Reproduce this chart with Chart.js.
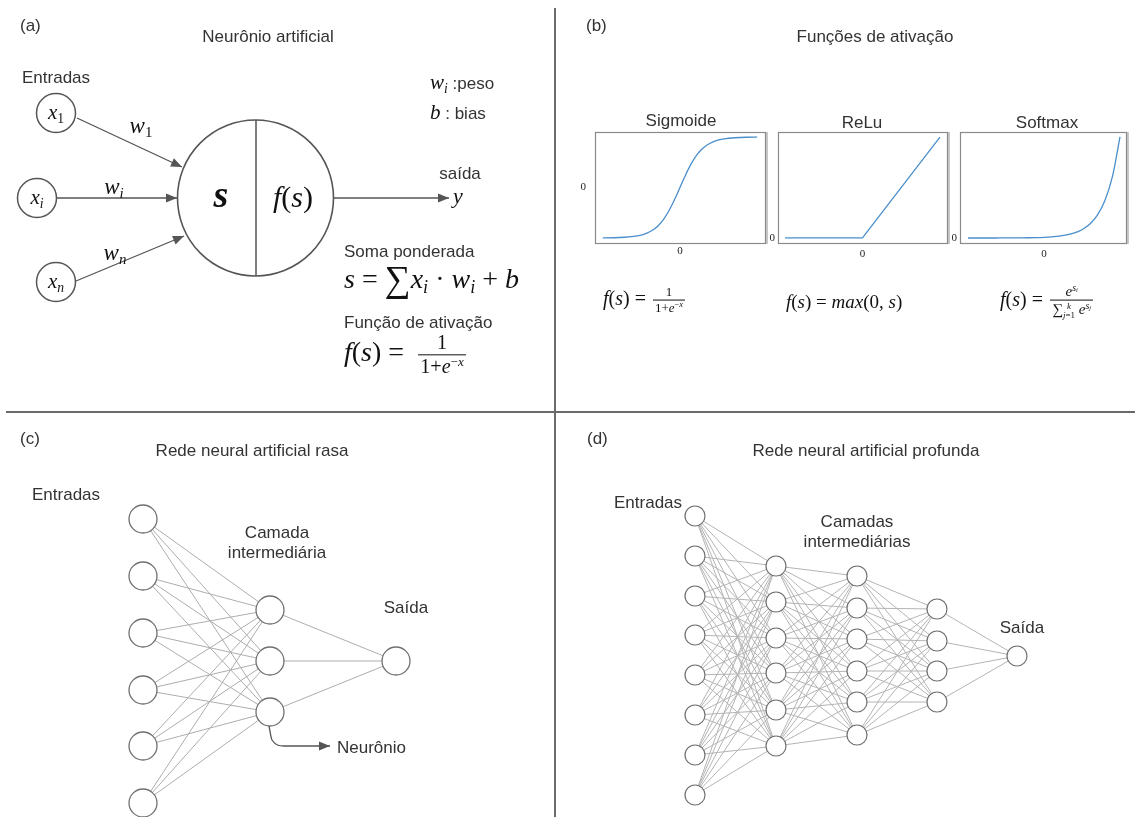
<!DOCTYPE html>
<html>
<head>
<meta charset="utf-8">
<script src="https://cdn.jsdelivr.net/npm/chart.js@4.4.1/dist/chart.umd.min.js"></script>
<style>
  html, body { margin: 0; padding: 0; background: #fff; }
  #wrap { position: relative; width: 1135px; height: 817px; overflow: hidden; }
  canvas { position: absolute; }
  .t { position: absolute; white-space: nowrap; line-height: 1; color: #333;
       font-family: "Liberation Sans", Arial, sans-serif; font-size: 17px; z-index: 5; }
  .m { font-family: "Liberation Serif", "Times New Roman", serif; color: #111; }
  .m i { font-style: italic; }
  sub, sup { font-size: 0.65em; line-height: 0; }
  sup { vertical-align: 0.55em; }
  sub { vertical-align: -0.3em; }
  .sig { font-size: 1.3em; vertical-align: -0.08em; }
  .frac { display: inline-block; vertical-align: middle; text-align: center; font-size: 0.65em; line-height: 1.15; margin-left: 0.15em; }
  .frac > span { display: block; padding: 0 2px; }
  .frac > span:first-child { border-bottom: 1.2px solid #111; }
  .ss { display: inline-flex; flex-direction: column; font-size: 0.6em; line-height: 1; vertical-align: middle; }
  .mw { font-family: "Liberation Serif", "Times New Roman", serif; font-style: italic; color: #111; font-size: 21px; }
</style>
</head>
<body>
<div id="wrap">
  <canvas id="main" width="1135" height="817" style="left:0;top:0"></canvas>
  <canvas id="sig"></canvas>
  <canvas id="relu"></canvas>
  <canvas id="soft"></canvas>
</div>
<script>
// ---- dados ----
// (a) neurônio artificial
const entradasA = [[56, 113], [37, 198], [56, 282]];
const corpoA = [255.5, 198];
const setasPeso = [[[77, 118], [182, 167]], [[57, 198], [177, 198]], [[76, 281], [184, 236]]];
const setaSaida = [[334, 198], [449, 198]];
const divisaoCorpo = [[256, 120], [256, 276]];
// divisórias dos painéis
const divisorias = [[[555, 8], [555, 817]], [[6, 412], [1135, 412]]];
// (c) rede rasa
const rasaX = [143, 270, 396];
const rasaY = [[519, 576, 633, 690, 746, 803], [610, 661, 712], [661]];
const ponteiroNeuronio = [[269, 726], [272, 740], [284, 746], [330, 746]];
// (d) rede profunda
const profX = [695, 776, 857, 937, 1017];
const profY = [
  [516, 556, 596, 635, 675, 715, 755, 795],
  [566, 602, 638, 673, 710, 746],
  [576, 608, 639, 671, 702, 735],
  [609, 641, 671, 702],
  [656]
];
// (b) funções de ativação
const sigmoideX = [-7, -6, -5, -4, -3.5, -3, -2.5, -2, -1.5, -1, -0.5, 0, 0.5, 1, 1.5, 2, 2.5, 3, 3.5, 4, 5, 6, 7];
const sigmoideY = [0.001, 0.002, 0.007, 0.018, 0.029, 0.047, 0.076, 0.119, 0.182, 0.269, 0.378, 0.5,
                   0.622, 0.731, 0.818, 0.881, 0.924, 0.953, 0.971, 0.982, 0.993, 0.998, 0.999];
const reluX = [-5, 0, 5];
const reluY = [0, 0, 5];
const softmaxX = [-5, -4.5, -4, -3.5, -3, -2.5, -2, -1.5, -1, -0.5, 0, 0.5, 1, 1.5, 2, 2.5, 3, 3.5, 4, 4.5, 5];
const softmaxY = [0.01, 0.01, 0.02, 0.03, 0.05, 0.08, 0.14, 0.22, 0.37, 0.61, 1, 1.65, 2.72, 4.48,
                  7.39, 12.18, 20.09, 33.12, 54.6, 90.02, 148.4];

const pt = p => ({ x: p[0], y: p[1] });

function linha(data, cor, larg, extra) {
  return Object.assign({ type: 'scatter', data, showLine: true, borderColor: cor, borderWidth: larg,
    pointRadius: 0, pointHoverRadius: 0, fill: false, clip: false, order: 3 }, extra || {});
}
function circulos(data, raio, cor, larg) {
  return { type: 'scatter', data, showLine: false, pointRadius: raio, pointHoverRadius: raio,
    pointBackgroundColor: '#fff', pointBorderColor: cor, pointBorderWidth: larg, clip: false, order: 1 };
}
// uma linha por ligação entre camadas vizinhas
function ligacoes(xs, ys, cor) {
  const out = [];
  for (let l = 0; l < xs.length - 1; l++) {
    ys[l].forEach(a => ys[l + 1].forEach(b => {
      out.push(linha([{ x: xs[l], y: a }, { x: xs[l + 1], y: b }], cor, 1));
    }));
  }
  return out;
}
function nos(xs, ys) {
  const out = [];
  xs.forEach((x, l) => ys[l].forEach(y => out.push({ x, y })));
  return out;
}

// pontas de seta no fim dos datasets marcados
const pontas = {
  id: 'pontas',
  afterDatasetsDraw(chart) {
    const ctx = chart.ctx;
    chart.data.datasets.forEach((ds, i) => {
      if (!ds.seta) return;
      const pts = chart.getDatasetMeta(i).data;
      const a = pts[pts.length - 2], b = pts[pts.length - 1];
      const ang = Math.atan2(b.y - a.y, b.x - a.x);
      ctx.save();
      ctx.translate(b.x, b.y);
      ctx.rotate(ang);
      ctx.beginPath();
      ctx.moveTo(0, 0);
      ctx.lineTo(-11, -4.5);
      ctx.lineTo(-11, 4.5);
      ctx.closePath();
      ctx.fillStyle = ds.borderColor;
      ctx.fill();
      ctx.restore();
    });
  }
};

const datasets = [];
divisorias.forEach(d => datasets.push(linha(d.map(pt), '#6a6a6a', 2)));
datasets.push(...ligacoes(rasaX, rasaY, '#adadad'));
datasets.push(...ligacoes(profX, profY, '#b4b4b4'));
datasets.push(circulos(nos(rasaX, rasaY), 14, '#707070', 1.3));
datasets.push(circulos(nos(profX, profY), 10, '#707070', 1.2));
datasets.push(circulos(entradasA.map(pt), 19.5, '#555', 1.5));
datasets.push(circulos([pt(corpoA)], 78, '#555', 1.6));
datasets.push(linha(divisaoCorpo.map(pt), '#555', 1.5, { order: 0 }));
setasPeso.forEach(s => datasets.push(linha(s.map(pt), '#555', 1.3, { seta: true })));
datasets.push(linha(setaSaida.map(pt), '#555', 1.3, { seta: true }));
datasets.push(linha(ponteiroNeuronio.map(pt), '#555', 1.3, { seta: true, cubicInterpolationMode: 'monotone' }));

new Chart(document.getElementById('main'), {
  type: 'scatter',
  data: { datasets },
  options: {
    responsive: false, animation: false, events: [],
    layout: { padding: 0, autoPadding: false },
    plugins: { legend: { display: false }, tooltip: { enabled: false } },
    scales: {
      x: { type: 'linear', min: 0, max: 1135, display: false },
      y: { type: 'linear', min: 0, max: 817, reverse: true, display: false }
    }
  },
  plugins: [pontas]
});

// ---- mini gráficos do painel (b) ----
const moldura = {
  id: 'moldura',
  afterDraw(c) {
    const { left, top, right, bottom } = c.chartArea;
    const ctx = c.ctx;
    ctx.save();
    ctx.strokeStyle = '#c8c8c8';
    ctx.lineWidth = 2;
    ctx.beginPath();
    ctx.moveTo(right + 1, top);
    ctx.lineTo(right + 1, bottom);
    ctx.stroke();
    ctx.strokeStyle = '#8a8a8a';
    ctx.lineWidth = 1.2;
    ctx.strokeRect(left + 0.5, top + 0.5, right - left - 1, bottom - top - 1);
    ctx.restore();
  }
};

function mini(id, caixa, xs, ys, o) {
  const [bx, by, bw, bh] = caixa;
  const cv = document.getElementById(id);
  cv.width = 20 + bw + 4;
  cv.height = 1 + bh + 18;
  cv.style.left = (bx - 20) + 'px';
  cv.style.top = (by - 1) + 'px';
  const fonte = { family: '"Liberation Serif", "Times New Roman", serif', size: 11 };
  new Chart(cv, {
    type: 'scatter',
    data: { datasets: [{ data: xs.map((x, i) => ({ x, y: ys[i] })), showLine: true, borderColor: '#4a8ecb',
      borderWidth: 1.3, pointRadius: 0, pointHoverRadius: 0, tension: 0,
      cubicInterpolationMode: o.curva ? 'monotone' : 'default' }] },
    options: {
      responsive: false, animation: false, events: [],
      layout: { padding: { top: 1, right: 4, left: 0, bottom: 0 }, autoPadding: false },
      plugins: { legend: { display: false }, tooltip: { enabled: false } },
      scales: {
        x: { type: 'linear', min: o.xMin, max: o.xMax,
          grid: { display: false, drawTicks: false }, border: { display: false },
          afterFit: s => { s.height = 18; s.paddingLeft = 0; s.paddingRight = 0; },
          afterBuildTicks: s => { s.ticks = [{ value: 0 }]; },
          ticks: { padding: o.xPad, font: fonte, color: '#222', maxRotation: 0, autoSkip: false, callback: () => '0' } },
        y: { type: 'linear', min: o.yMin, max: o.yMax,
          grid: { display: false, drawTicks: false }, border: { display: false },
          afterFit: s => { s.width = 20; s.paddingTop = 0; s.paddingBottom = 0; },
          afterBuildTicks: s => { s.ticks = [{ value: o.yTick }]; },
          ticks: { padding: o.yPad, font: fonte, color: '#222', autoSkip: false, callback: () => '0' } }
      }
    },
    plugins: [moldura]
  });
}

mini('sig', [595, 132, 171, 112], sigmoideX, sigmoideY,
  { xMin: -7.7, xMax: 7.8, yMin: -0.06, yMax: 1.05, yTick: 0.5, yPad: 9, xPad: 1, curva: true });
mini('relu', [778, 132, 170, 112], reluX, reluY,
  { xMin: -5.45, xMax: 5.52, yMin: -0.3, yMax: 5.25, yTick: 0, yPad: 3, xPad: 4, curva: false });
mini('soft', [960, 132, 167, 112], softmaxX, softmaxY,
  { xMin: -5.53, xMax: 5.46, yMin: -8.8, yMax: 155.7, yTick: 0, yPad: 3, xPad: 4, curva: true });

// ---- textos ----
const fSig = '<i>f</i>(<i>s</i>) = <span class="frac"><span>1</span><span>1+<i>e</i><sup>−<i>x</i></sup></span></span>';
const fSigA = '<i>f</i>(<i>s</i>) = <span class="frac" style="font-size:0.72em;margin-left:0.35em"><span>1</span><span>1+<i>e</i><sup>−<i>x</i></sup></span></span>';
const fSoft = '<i>f</i>(<i>s</i>) = <span class="frac" style="font-size:0.75em"><span><i>e</i><sup><i>s</i><sub><i>i</i></sub></sup></span>' +
  '<span>∑<span class="ss"><i>k</i><span><i>j</i>=1</span></span> <i>e</i><sup><i>s</i><sub><i>j</i></sub></sup></span></span>';
const textos = [
  // (a)
  ['(a)', 20, 25, '', 'l', 17],
  ['Neurônio artificial', 268, 36, '', 'c', 17],
  ['Entradas', 22, 77, '', 'l', 17],
  ['<i>x</i><sub>1</sub>', 56, 112, 'm', 'c', 21],
  ['<i>x</i><sub><i>i</i></sub>', 37, 197, 'm', 'c', 21],
  ['<i>x</i><sub><i>n</i></sub>', 56, 281, 'm', 'c', 21],
  ['<i>w</i><sub>1</sub>', 141, 125, 'm', 'c', 23],
  ['<i>w</i><sub><i>i</i></sub>', 114, 186, 'm', 'c', 23],
  ['<i>w</i><sub><i>n</i></sub>', 115, 252, 'm', 'c', 23],
  ['<b><i>s</i></b>', 221, 194, 'm', 'c', 38],
  ['<i>f</i>(<i>s</i>)', 293, 197, 'm', 'c', 30],
  ['saída', 460, 173, '', 'c', 17],
  ['<i>y</i>', 458, 196, 'm', 'c', 22],
  ['<span class="mw">w<sub>i</sub></span> :peso', 430, 82, '', 'l', 17],
  ['<span class="mw">b</span> :  bias', 430, 112, '', 'l', 17],
  ['Soma ponderada', 344, 251, '', 'l', 17],
  ['<i>s</i> = <span class="sig">∑</span><i>x</i><sub><i>i</i></sub> · <i>w</i><sub><i>i</i></sub> + <i>b</i>', 344, 279, 'm', 'l', 28],
  ['Função de ativação', 344, 322, '', 'l', 17],
  [fSigA, 344, 355, 'm', 'l', 28],
  // (b)
  ['(b)', 586, 25, '', 'l', 17],
  ['Funções de ativação', 875, 36, '', 'c', 17],
  ['Sigmoide', 681, 120, '', 'c', 17],
  ['ReLu', 862, 122, '', 'c', 17],
  ['Softmax', 1047, 122, '', 'c', 17],
  [fSig, 603, 300, 'm', 'l', 20],
  ['<i>f</i>(<i>s</i>) = <i>max</i>(0, <i>s</i>)', 786, 301, 'm', 'l', 19],
  [fSoft, 1000, 301, 'm', 'l', 20],
  // (c)
  ['(c)', 20, 438, '', 'l', 17],
  ['Rede neural artificial rasa', 252, 450, '', 'c', 17],
  ['Entradas', 32, 494, '', 'l', 17],
  ['Camada', 277, 532, '', 'c', 17],
  ['intermediária', 277, 552, '', 'c', 17],
  ['Saída', 406, 607, '', 'c', 17],
  ['Neurônio', 337, 747, '', 'l', 17],
  // (d)
  ['(d)', 587, 438, '', 'l', 17],
  ['Rede neural artificial profunda', 866, 450, '', 'c', 17],
  ['Entradas', 614, 502, '', 'l', 17],
  ['Camadas', 857, 521, '', 'c', 17],
  ['intermediárias', 857, 541, '', 'c', 17],
  ['Saída', 1022, 627, '', 'c', 17]
];
const wrap = document.getElementById('wrap');
textos.forEach(([html, x, y, cls, al, tam]) => {
  const d = document.createElement('div');
  d.className = 't ' + cls;
  d.innerHTML = html;
  d.style.left = x + 'px';
  d.style.top = y + 'px';
  d.style.fontSize = tam + 'px';
  d.style.transform = al === 'c' ? 'translate(-50%, -50%)' : 'translate(0, -50%)';
  wrap.appendChild(d);
});
</script>
</body>
</html>
